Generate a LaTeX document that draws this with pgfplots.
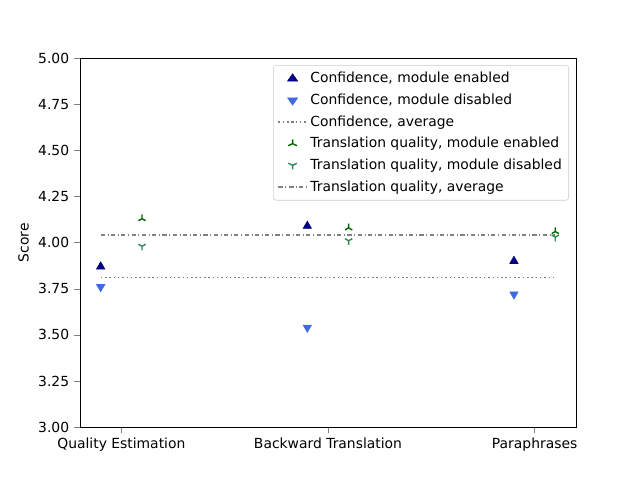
\documentclass[border=0pt]{standalone}
\usepackage{pgfplots}
\pgfplotsset{compat=1.18}
\usepackage{fontspec}
\setmainfont{DejaVu Sans}
\begin{document}
\begin{tikzpicture}
\begin{axis}[name=ax,scale only axis,width=357pt,height=265.7pt,
xmin=-0.2,xmax=2.2,ymin=3,ymax=5,
xtick={0,1,2},xticklabels={Quality Estimation,Backward Translation,Paraphrases},
ytick={3,3.25,...,5},
yticklabel style={/pgf/number format/.cd,fixed,fixed zerofill,precision=2},
/pgf/number format/assume math mode=true,
tick label style={font=\fontsize{10}{12}\selectfont},
ylabel={Score},ylabel style={font=\fontsize{10}{12}\selectfont},
tick align=outside,xtick pos=bottom,ytick pos=left,
legend image post style={xscale=1.2},
legend style={at={(0.986,0.981)},anchor=north east,font=\fontsize{10}{12}\selectfont,draw=black!20,rounded corners=2pt,row sep=2.5pt,inner ysep=3pt},
legend cell align=left]
\addplot[only marks,mark=triangle*,mark size=3.5pt,color={rgb,255:red,0;green,0;blue,128}] coordinates {(-0.1,3.87)(0.9,4.09)(1.9,3.90)};
\addlegendentry{Confidence, module enabled}
\addplot[only marks,mark=triangle*,mark options={rotate=180},mark size=3.5pt,color={rgb,255:red,65;green,105;blue,225}] coordinates {(-0.1,3.76)(0.9,3.54)(1.9,3.72)};
\addlegendentry{Confidence, module disabled}
\addplot[gray,dotted,line width=1.1pt] coordinates {(-0.1,3.81)(2.1,3.81)};
\addlegendentry{Confidence, average}
\addplot[only marks,mark=Mercedes star,mark size=3pt,line width=1pt,color={rgb,255:red,0;green,100;blue,0}] coordinates {(0.1,4.13)(1.1,4.08)(2.1,4.06)};
\addlegendentry{Translation quality, module enabled}
\addplot[only marks,mark=Mercedes star flipped,mark size=3pt,line width=1pt,color={rgb,255:red,46;green,139;blue,87}] coordinates {(0.1,3.98)(1.1,4.01)(2.1,4.03)};
\addlegendentry{Translation quality, module disabled}
\addplot[gray,dash dot,line width=1.1pt] coordinates {(-0.1,4.04)(2.1,4.04)};
\addlegendentry{Translation quality, average}
\end{axis}
\useasboundingbox ([shift={(-57.6pt,-38.2pt)}]ax.south west) rectangle ([shift={(46.1pt,41.8pt)}]ax.north east);
\end{tikzpicture}
\end{document}
